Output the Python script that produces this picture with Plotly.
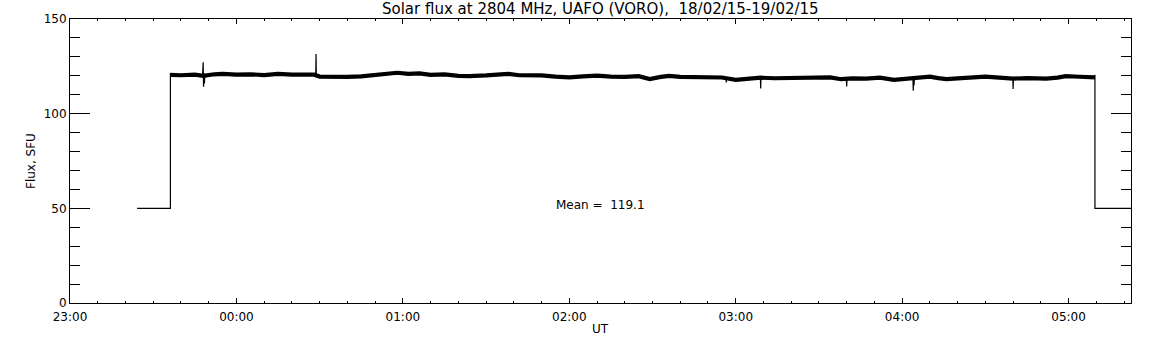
import pandas as pd
import plotly.graph_objects as go

BASE = pd.Timestamp("2015-02-18 23:00")

# minutes after 23:00 UT and flux (SFU)
band_min = [36.2, 40, 45, 48, 52, 55, 60, 65, 70, 75, 80, 85, 88, 90, 95, 100, 105, 110,
            115, 118, 122, 126, 130, 135, 140, 144, 150, 155, 158, 162, 166, 170, 175,
            180, 185, 190, 195, 200, 205, 209, 213, 216, 220, 225, 230, 235, 240, 245,
            249, 254, 258, 262, 266, 270, 274, 278, 282, 287, 292, 297, 302, 306, 310,
            313, 316, 320, 325, 330, 335, 340, 345, 352, 356, 359, 364, 369.5]
band_flux = [120.5, 120.3, 120.6, 120.0, 120.8, 121.0, 120.6, 120.8, 120.4, 121.0, 120.6,
             120.5, 120.6, 119.6, 119.3, 119.4, 119.7, 120.3, 121.2, 121.6, 121.0, 121.3,
             120.5, 120.7, 120.0, 119.8, 120.2, 120.7, 121.0, 120.3, 120.5, 120.2, 119.6,
             119.2, 119.7, 120.1, 119.6, 119.4, 119.8, 118.3, 119.4, 120.0, 119.4, 119.2,
             119.0, 119.1, 117.9, 118.8, 119.0, 118.7, 118.9, 118.7, 119.0, 119.2, 119.2,
             118.2, 118.6, 118.5, 119.0, 117.9, 118.6, 118.8, 119.6, 118.8, 118.3, 118.6,
             119.0, 119.6, 119.0, 118.5, 118.8, 118.5, 119.0, 119.8, 119.5, 119.2]

# off-sun calibration level and edges of the observation
step_min = [24.2, 36.2, 36.2, None, 369.5, 369.5, 382.5]
step_flux = [50, 50, 121.5, None, 120.5, 50, 50]

# short spikes / dips (None separates them)
spike_min = [47.8, 48.0, 48.15, 48.3, 48.45, 48.6, None,
             88.6, 88.7, 88.8, None,
             248.9, 249.0, 249.1, None,
             279.9, 280.0, 280.1, None,
             303.9, 304.0, 304.1, 304.3, 304.4, None,
             339.9, 340.0, 340.1, None,
             236.5, 236.6, 236.7]
spike_flux = [120.0, 127.1, 114.2, 121.5, 116.0, 120.0, None,
              120.5, 131.5, 120.0, None,
              119.0, 113.3, 119.0, None,
              118.0, 114.4, 118.0, None,
              118.5, 112.1, 118.5, 115.0, 118.5, None,
              118.5, 113.0, 118.5, None,
              119.0, 116.5, 119.0]

mean_text = "Mean =\u00a0\u00a0119.1"
title_text = "Solar flux at 2804 MHz, UAFO (VORO),\u00a0\u00a018/02/15-19/02/15"
x_end_min = 382.5


def to_time(mins):
    return [None if m is None else BASE + pd.Timedelta(minutes=m) for m in mins]


FONT = "DejaVu Sans"

fig = go.Figure()
fig.add_trace(go.Scatter(x=to_time(step_min), y=step_flux, mode="lines",
                         line=dict(color="black", width=1.2), connectgaps=False,
                         hoverinfo="skip"))
fig.add_trace(go.Scatter(x=to_time(band_min), y=band_flux, mode="lines",
                         line=dict(color="black", width=4.2)))
fig.add_trace(go.Scatter(x=to_time(spike_min), y=spike_flux, mode="lines",
                         line=dict(color="black", width=1.2), connectgaps=False))

fig.update_layout(
    width=1152, height=345,
    margin=dict(l=70, r=21, t=19, b=42),
    paper_bgcolor="white", plot_bgcolor="white",
    showlegend=False,
    font=dict(family=FONT, size=12, color="black"),
    xaxis=dict(
        type="date", automargin=False,
        range=[BASE, BASE + pd.Timedelta(minutes=x_end_min)],
        tick0=BASE, dtick=3600000, tickformat="%H:%M",
        ticks="inside", ticklen=5, tickwidth=1, tickcolor="black",
        ticklabelstandoff=3,
        minor=dict(dtick=600000, ticks="inside", ticklen=2, tickcolor="black"),
        showline=True, linecolor="black", linewidth=1, mirror="allticks",
        showgrid=False, zeroline=False,
        tickfont=dict(family=FONT, size=12),
    ),
    yaxis=dict(
        automargin=False,
        range=[0, 150], tick0=0, dtick=50,
        ticks="inside", ticklen=20, tickwidth=1, tickcolor="black",
        minor=dict(dtick=10, ticks="inside", ticklen=10, tickcolor="black"),
        showline=True, linecolor="black", linewidth=1, mirror="allticks",
        showgrid=False, zeroline=False,
        tickfont=dict(family=FONT, size=12),
    ),
    annotations=[
        dict(text=title_text, xref="paper", yref="paper", x=0.5, y=1,
             xanchor="center", yanchor="middle", yshift=10, showarrow=False,
             font=dict(family=FONT, size=15)),
        dict(text="UT", xref="paper", yref="paper", x=0.5, y=0,
             xanchor="center", yanchor="middle", yshift=-26, showarrow=False,
             font=dict(family=FONT, size=12)),
        dict(text="Flux, SFU", xref="paper", yref="paper", x=0, y=0.5,
             xanchor="center", yanchor="middle", xshift=-39, textangle=-90,
             showarrow=False, font=dict(family=FONT, size=12)),
        dict(text=mean_text, xref="paper", yref="y", x=0.5, y=52,
             xanchor="center", yanchor="middle", showarrow=False,
             font=dict(family=FONT, size=12)),
    ],
)

fig.write_html("out.html", config={"displayModeBar": False},
               post_script="document.body.style.margin='0px';")
